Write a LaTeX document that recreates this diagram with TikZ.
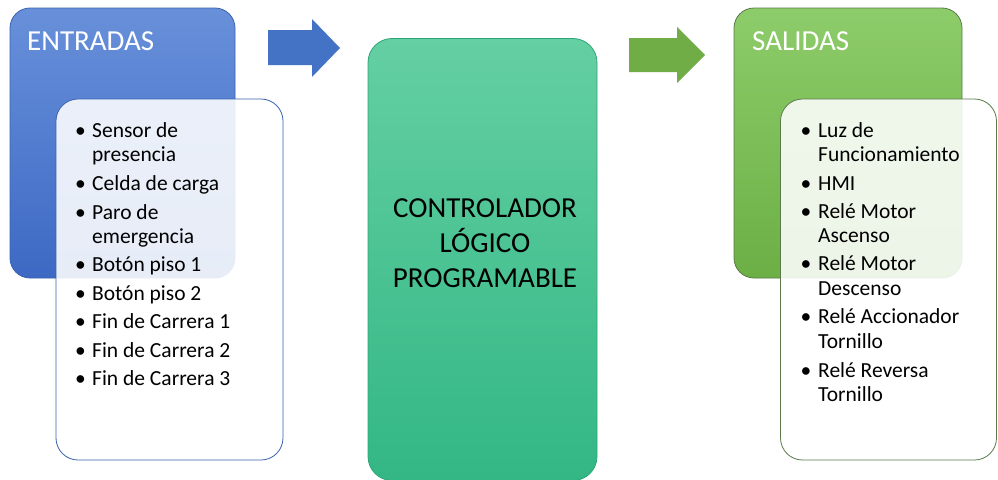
\documentclass[tikz,border=0pt]{standalone}
\usepackage{fontspec}
\setmainfont{Carlito}
\definecolor{bluetop}{HTML}{6890DA}
\definecolor{bluebot}{HTML}{3D69C4}
\definecolor{bluearrow}{HTML}{4472C4}
\definecolor{blueedge}{HTML}{3A62AE}
\definecolor{greentop}{HTML}{8DCC6A}
\definecolor{greenbot}{HTML}{6CAF45}
\definecolor{greenarrow}{HTML}{70AD47}
\definecolor{greenedge}{HTML}{5A7A4A}
\definecolor{plctop}{HTML}{64CFA2}
\definecolor{plcbot}{HTML}{33B785}
\definecolor{plcedge}{HTML}{2FA577}
\tikzset{
  x=1pt, y=-1pt,
  header/.style={rectangle, rounded corners=20pt, draw=#1edge, line width=0.8pt,
     top color=#1top, bottom color=#1bot, inner sep=0pt},
  listbox/.style={rectangle, rounded corners=22pt, draw=#1, line width=0.8pt,
     fill=white, fill opacity=0.88, inner sep=0pt},
  title/.style={anchor=base west, text=white, font=\fontsize{29}{29}\selectfont, inner sep=0pt},
  item/.style={anchor=base west, font=\fontsize{21.5}{21.5}\selectfont, inner sep=0pt},
  bul/.style={anchor=base, font=\fontsize{21.5}{21.5}\selectfont, inner sep=0pt},
  plcline/.style={anchor=base, font=\fontsize{29}{29}\selectfont, inner sep=0pt}
}
\begin{document}
\begin{tikzpicture}
\useasboundingbox (0,0) rectangle (998,479);
\fill[white] (0,0) rectangle (998,479);
% Left group
\node[header=blue, minimum width=225pt, minimum height=270pt] (inbox) at (122.5,143) {};
\node[title] (intitle) at (27,50) {ENTRADAS};
\node[listbox=blueedge, minimum width=227pt, minimum height=361pt] (inlist) at (169.5,279.5) {};
\foreach \y/\t/\b [count=\i] in {
  137/Sensor de/1, 161/presencia/0, 190/Celda de carga/1, 219/Paro de/1,
  243/emergencia/0, 271/Botón piso 1/1, 300/Botón piso 2/1,
  328/Fin de Carrera 1/1, 357/Fin de Carrera 2/1, 385/Fin de Carrera 3/1}{
  \node[item] (in\i) at (92,\y) {\t};
  \ifnum\b=1 \node[bul] (inb\i) at (80.5,\y) {•};\fi
}
% Blue arrow
\fill[bluearrow] (268,30) -- (312,30) -- (312,19) -- (340,48) -- (312,77) -- (312,65) -- (268,65) -- cycle;
% PLC
\node[rectangle, rounded corners=24pt, draw=plcedge, line width=0.8pt, top color=plctop, bottom color=plcbot,
  minimum width=229pt, minimum height=442pt, inner sep=0pt] (plc) at (482.5,259.5) {};
\node[plcline] (plc1) at (485,217) {CONTROLADOR};
\node[plcline] (plc2) at (485,252) {LÓGICO};
\node[plcline] (plc3) at (485,287) {PROGRAMABLE};
% Green arrow
\fill[greenarrow] (629,38) -- (677,38) -- (677,27) -- (705,55) -- (677,83) -- (677,72) -- (629,72) -- cycle;
% Right group
\node[header=green, minimum width=228pt, minimum height=270pt] (outbox) at (848,143) {};
\node[title] (outtitle) at (752,50) {SALIDAS};
\node[listbox=greenedge, minimum width=216pt, minimum height=361pt] (outlist) at (888.5,279.5) {};
\foreach \y/\t/\b [count=\i] in {
  137/Luz de/1, 161/Funcionamiento/0, 190/HMI/1, 218/Relé Motor/1, 242/Ascenso/0,
  270/Relé Motor/1, 295/Descenso/0, 323/Relé Accionador/1, 348/Tornillo/0,
  377/Relé Reversa/1, 401/Tornillo/0}{
  \node[item] (out\i) at (818,\y) {\t};
  \ifnum\b=1 \node[bul] (outb\i) at (806,\y) {•};\fi
}
\end{tikzpicture}
\end{document}
